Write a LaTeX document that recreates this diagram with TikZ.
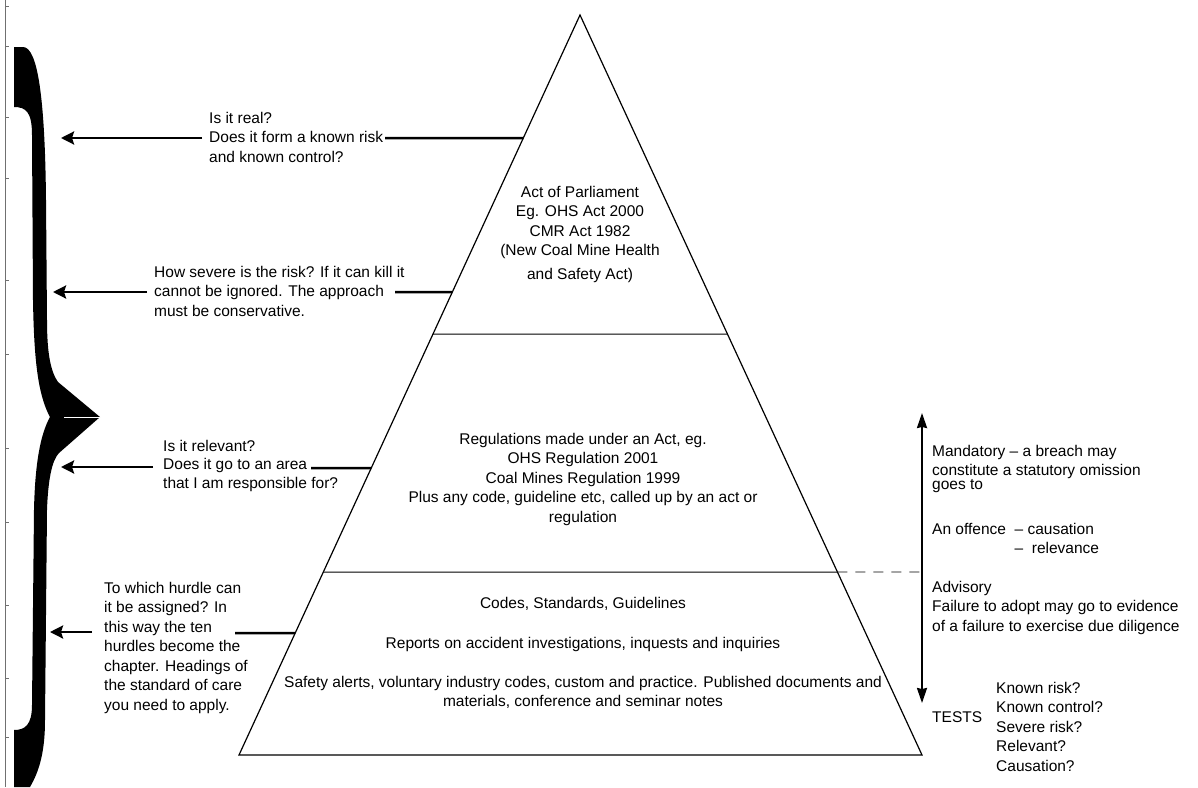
\documentclass[tikz,border=0pt]{standalone}
\usepackage{fontspec}
\setmainfont{Liberation Sans}
\usepackage{tikz}
\usetikzlibrary{arrows.meta, calc}
\definecolor{rulegrey}{HTML}{707070}

\begin{document}
\begin{tikzpicture}[x=1pt, y=-1pt,
    txt/.style={inner sep=0pt, font=\fontsize{15.5}{19.5}\selectfont},
    note/.style={txt, align=left, anchor=north west},
    tier/.style={txt, align=center, anchor=north},
    lead/.style={line width=2.5pt},
    back/.style={lead, -{Stealth[length=13pt, width=13pt, inset=2pt]}},
    scalearrow/.style={line width=2pt, {Stealth[length=15pt, width=10pt, inset=1pt]}-{Stealth[length=15pt, width=10pt, inset=1pt]}}]
    \useasboundingbox (0,0) rectangle (1198,787);
    \draw[rulegrey, line width=0.9pt] (5,0) -- (5,787);
    \foreach \y in {6,46,117,178,280,354,448,522,605,678,737}
      \draw[rulegrey, line width=0.9pt] (5,\y) -- (9,\y);
    \fill (14,47) -- (14,107) .. controls (26,107) and (32,112) .. (32,135)
      -- (33,300) .. controls (34,360) and (38,395) .. (50,417)
      .. controls (40,435) and (35,465) .. (34,510)
      -- (32,705) .. controls (32,725) and (25,730) .. (14,730) -- (14,787) -- (30,787)
      .. controls (40,770) and (45,750) .. (45,720) -- (47,510)
      .. controls (48,480) and (52,460) .. (59,453) -- (100,417) -- (58,382)
      .. controls (51,372) and (47,355) .. (47,320) -- (46,200)
      .. controls (45,100) and (38,47) .. (23,47) -- cycle;
    \draw[white, line width=0.5pt] (64,417) -- (100,417);

    \coordinate (apex) at (580,15);
    \coordinate (bl) at (239,755);
    \coordinate (br) at (922,755);
    \draw[line width=1.2pt] (apex) -- (bl) -- (br) -- cycle;
    \coordinate (topL) at (intersection of apex--bl and 0,334--10,334);
    \coordinate (topR) at (intersection of apex--br and 0,334--10,334);
    \coordinate (lowL) at (intersection of apex--bl and 0,572--10,572);
    \coordinate (lowR) at (intersection of apex--br and 0,572--10,572);
    \draw[line width=1pt] (topL) -- (topR);
    \draw[line width=1pt] (lowL) -- (lowR);

    \node[tier] (act) at (580,186) {Act of Parliament\\Eg. OHS Act 2000\\CMR Act 1982\\(New Coal Mine Health\\[4.5pt]and Safety Act)};
    \node[tier] (regs) at (583,433) {Regulations made under an Act, eg.\\OHS Regulation 2001\\Coal Mines Regulation 1999\\Plus any code, guideline etc, called up by an act or\\regulation};
    \node[tier] (codes) at (583,597) {Codes, Standards, Guidelines\\[20.5pt]Reports on accident investigations, inquests and inquiries\\[19.5pt]Safety alerts, voluntary industry codes, custom and practice. Published documents and\\materials, conference and seminar notes};

    \node[note] (realq) at (209,112) {Is it real?\\Does it form a known risk\\and known control?};
    \node[note] (severe) at (154,266) {How severe is the risk? If it can kill it\\cannot be ignored. The approach\\must be conservative.};
    \node[note] (relev) at (163,440) {Is it relevant?\\[-1pt]Does it go to an area\\[-1pt]that I am responsible for?};
    \node[note] (hurdle) at (104,582) {To which hurdle can\\it be assigned? In\\this way the ten\\hurdles become the\\chapter. Headings of\\the standard of care\\you need to apply.};

    \foreach \n/\y in {1/138, 2/292, 3/468, 4/633}
      \coordinate (e\n) at (intersection of apex--bl and 0,\y--10,\y);
    \coordinate (s1) at (385,138);
    \coordinate (s2) at (395,292);
    \coordinate (s3) at (311,468);
    \coordinate (s4) at (235,633);
    \coordinate (tip1) at (61,138);
    \coordinate (tip2) at (53,292);
    \coordinate (tip3) at (61,467);
    \coordinate (tip4) at (50,632);
    \draw[lead] (e1) -- (s1);
    \draw[lead] (e2) -- (s2);
    \draw[lead] (e3) -- (s3);
    \draw[lead] (e4) -- (s4);
    \draw[back] ([xshift=-7pt]realq.west |- tip1) -- (tip1);
    \draw[back] ([xshift=-7pt]severe.west |- tip2) -- (tip2);
    \draw[back] ([xshift=-10pt]relev.west |- tip3) -- (tip3);
    \draw[back] ([xshift=-12pt]hurdle.west |- tip4) -- (tip4);

    \coordinate (mtop) at (922,413);
    \coordinate (mbot) at (922,703);
    \coordinate (split) at (922,572);
    \draw[scalearrow] (mtop) -- (mbot);
    \draw[line width=0.9pt, dash pattern=on 10pt off 8pt] (lowR) -- (split);

    \node[note] (mand) at (932,445) {Mandatory -- a breach may\\constitute a statutory omission\\[-6pt]goes to};
    \node[note] (offence) at (932,523) {An offence \ -- causation\\\phantom{An offence \ }-- \ relevance};
    \node[note] (adv) at (932,581) {Advisory\\Failure to adopt may go to evidence\\of a failure to exercise due diligence};
    \node[txt, anchor=west] (tests) at (932,717) {TESTS};
    \node[note] (checks) at (996,682) {Known risk?\\Known control?\\Severe risk?\\Relevant?\\Causation?};
  \end{tikzpicture}
\end{document}
